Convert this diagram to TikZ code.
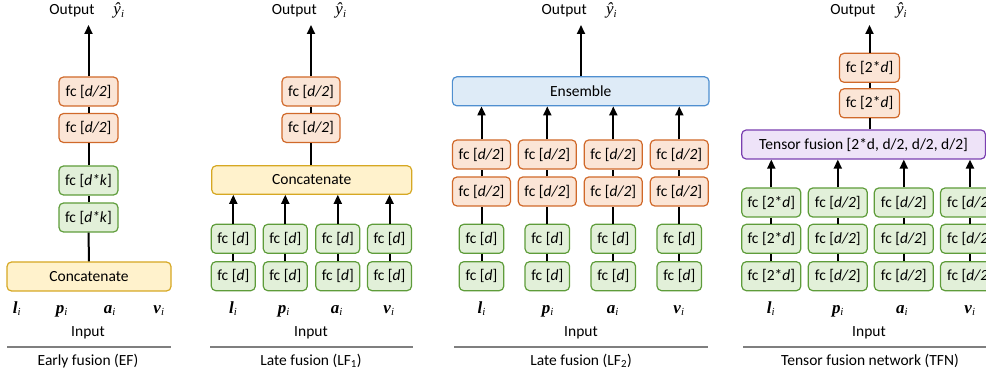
\documentclass[tikz,border=0pt]{standalone}
\usepackage{fontspec}
\setmainfont{Carlito}
\newfontfamily\mathlike{Liberation Serif}
\usetikzlibrary{arrows.meta}
\definecolor{grnF}{HTML}{E2F0D9}
\definecolor{grnS}{HTML}{5E9C3A}
\definecolor{orgF}{HTML}{FBE5D6}
\definecolor{orgS}{HTML}{D0692A}
\definecolor{ylwF}{HTML}{FFF2CC}
\definecolor{ylwS}{HTML}{D6A823}
\definecolor{bluF}{HTML}{DEEBF7}
\definecolor{bluS}{HTML}{4F8FD0}
\definecolor{purF}{HTML}{EEE3F8}
\definecolor{purS}{HTML}{7A3FB0}
\definecolor{rulegray}{HTML}{7F7F7F}
\newcommand{\vecsym}[1]{{\mathlike\fontsize{17}{20}\selectfont\bfseries\itshape #1}\textsubscript{\mathlike\itshape i}}
\newcommand{\yhatsym}{{\mathlike\fontsize{17}{20}\selectfont\itshape ŷ}\textsubscript{\mathlike\itshape i}}
\tikzset{
  blk/.style={draw, rounded corners=4.5pt, line width=1.2pt, minimum height=29pt, inner sep=0pt, align=center},
  grn/.style={blk, draw=grnS, fill=grnF},
  org/.style={blk, draw=orgS, fill=orgF},
  ylw/.style={blk, draw=ylwS, fill=ylwF},
  blu/.style={blk, draw=bluS, fill=bluF},
  pur/.style={blk, draw=purS, fill=purF},
  conn/.style={line width=2pt, black},
  arr/.style={conn, -{Triangle[width=8pt,length=9pt]}},
  lbl/.style={anchor=base, inner sep=0pt},
  rule/.style={line width=1.8pt, rulegray}
}
\begin{document}
\begin{tikzpicture}[x=1pt,y=1pt,font=\fontsize{15.5}{18}\selectfont]
\useasboundingbox (0,0) rectangle (986,378);
\clip (0,0) rectangle (986,378);

% ================= Early fusion =================
\node[lbl] (o1) at (72,363) {Output};
\node[lbl] (y1) at (119,363) {\yhatsym};
\coordinate (t1) at (88.5,353);
\node[org, minimum width=59pt] (a1) at (88.5,286.5) {fc [\textit{d/2}]};
\node[org, minimum width=59pt] (b1) at (88.5,250) {fc [\textit{d/2}]};
\node[grn, minimum width=59pt] (c1) at (88.5,197.5) {fc [\textit{d*k}]};
\node[grn, minimum width=59pt] (d1) at (88.5,160.5) {fc [\textit{d*k}]};
\node[ylw, minimum width=164pt] (cat1) at (89,101.5) {Concatenate};
\draw[conn] (cat1) -- (d1);
\draw[conn] (d1) -- (c1);
\draw[conn] (c1) -- (b1);
\draw[conn] (b1) -- (a1);
\draw[arr] (a1) -- (t1);
\node[lbl] (l1) at (17,64.7) {\vecsym{l}};
\node[lbl] (p1) at (62,64.7) {\vecsym{p}};
\node[lbl] (aa1) at (110,64.7) {\vecsym{a}};
\node[lbl] (v1) at (159,64.7) {\vecsym{v}};
\node[lbl] (in1) at (88,42) {Input};
\coordinate (r1a) at (7,31.3);
\coordinate (r1b) at (171,31.3);
\draw[rule] (r1a) -- (r1b);
\node[lbl] (cap1) at (88,13) {Early fusion (EF)};

% ================= Late fusion 1 =================
\node[lbl] (o2) at (294.3,363) {Output};
\node[lbl] (y2) at (341,363) {\yhatsym};
\coordinate (t2) at (311,353);
\node[org, minimum width=58pt] (a2) at (311,286.5) {fc [\textit{d/2}]};
\node[org, minimum width=58pt] (b2) at (311,250) {fc [\textit{d/2}]};
\node[ylw, minimum width=200pt, minimum height=28.5pt] (cat2) at (311.7,198) {Concatenate};
\draw[conn] (cat2.north -| b2) -- (b2);
\draw[conn] (b2) -- (a2);
\draw[arr] (a2) -- (t2);
\foreach \n/\x in {1/233.3,2/285.3,3/337.8,4/389.5}{
  \node[grn, minimum width=44pt] (u2\n) at (\x,139.2) {fc [\textit{d}]};
  \node[grn, minimum width=44pt] (w2\n) at (\x,101.8) {fc [\textit{d}]};
  \draw[conn] (w2\n) -- (u2\n);
  \draw[arr] (u2\n) -- (u2\n |- cat2.south);
}
\node[lbl] (l2) at (233.3,64.7) {\vecsym{l}};
\node[lbl] (p2) at (284,64.7) {\vecsym{p}};
\node[lbl] (aa2) at (337,64.7) {\vecsym{a}};
\node[lbl] (v2) at (389,64.7) {\vecsym{v}};
\node[lbl] (in2) at (311,42) {Input};
\coordinate (r2a) at (210,31.3);
\coordinate (r2b) at (412.7,31.3);
\draw[rule] (r2a) -- (r2b);
\node[lbl] (cap2) at (311,13) {Late fusion (LF\textsubscript{1})};

% ================= Late fusion 2 =================
\node[lbl] (o3) at (564.2,363) {Output};
\node[lbl] (y3) at (611.7,363) {\yhatsym};
\coordinate (t3) at (581,353);
\node[blu, minimum width=256.7pt] (ens) at (580.7,286.7) {Ensemble};
\draw[arr] (ens.north -| t3) -- (t3);
\foreach \n/\x in {1/481.5,2/547.3,3/613.3,4/679.3}{
  \node[org, minimum width=58pt] (h3\n) at (\x,223.5) {fc [\textit{d/2}]};
  \node[org, minimum width=58pt] (g3\n) at (\x,186.5) {fc [\textit{d/2}]};
  \node[grn, minimum width=44.5pt] (u3\n) at (\x,139.2) {fc [\textit{d}]};
  \node[grn, minimum width=44.5pt] (w3\n) at (\x,101.8) {fc [\textit{d}]};
  \draw[conn] (w3\n) -- (u3\n);
  \draw[conn] (u3\n) -- (g3\n);
  \draw[conn] (g3\n) -- (h3\n);
  \draw[arr] (h3\n) -- (h3\n |- ens.south);
}
\node[lbl] (l3) at (481.7,64.7) {\vecsym{l}};
\node[lbl] (p3) at (548,64.7) {\vecsym{p}};
\node[lbl] (aa3) at (613,64.7) {\vecsym{a}};
\node[lbl] (v3) at (679,64.7) {\vecsym{v}};
\node[lbl] (in3) at (581,42) {Input};
\coordinate (r3a) at (454,31.3);
\coordinate (r3b) at (707.7,31.3);
\draw[rule] (r3a) -- (r3b);
\node[lbl] (cap3) at (581,13) {Late fusion (LF\textsubscript{2})};

% ================= Tensor fusion network =================
\node[lbl] (o4) at (852.8,363) {Output};
\node[lbl] (y4) at (901.7,363) {\yhatsym};
\coordinate (t4) at (869.5,353);
\node[org, minimum width=60pt] (a4) at (869.5,310.2) {fc [2*\textit{d}]};
\node[org, minimum width=60pt] (b4) at (869.5,274.7) {fc [2*\textit{d}]};
\node[pur, minimum width=243.8pt] (tf) at (863.6,233.5) {Tensor fusion [2*d, d/2, d/2, d/2]};
\draw[conn] (tf.north -| b4) -- (b4);
\draw[conn] (b4) -- (a4);
\draw[arr] (a4) -- (t4);
\foreach \n/\x/\t in {1/771.3/{fc [2*\textit{d}]},2/837.8/{fc [\textit{d/2}]},3/903.8/{fc [\textit{d/2}]},4/970/{fc [\textit{d/2}]}}{
  \node[grn, minimum width=59pt] (k4\n) at (\x,175.5) {\t};
  \node[grn, minimum width=59pt] (u4\n) at (\x,139.2) {\t};
  \node[grn, minimum width=59pt] (w4\n) at (\x,101.8) {\t};
  \draw[conn] (w4\n) -- (u4\n);
  \draw[conn] (u4\n) -- (k4\n);
  \draw[arr] (k4\n) -- (k4\n |- tf.south);
}
\node[lbl] (l4) at (771,64.7) {\vecsym{l}};
\node[lbl] (p4) at (838,64.7) {\vecsym{p}};
\node[lbl] (aa4) at (902,64.7) {\vecsym{a}};
\node[lbl] (v4) at (970,64.7) {\vecsym{v}};
\node[lbl] (in4) at (869,42) {Input};
\coordinate (r4a) at (743.3,31.3);
\coordinate (r4b) at (990,31.3);
\draw[rule] (r4a) -- (r4b);
\node[lbl] (cap4) at (870,13) {Tensor fusion network (TFN)};
\end{tikzpicture}
\end{document}
